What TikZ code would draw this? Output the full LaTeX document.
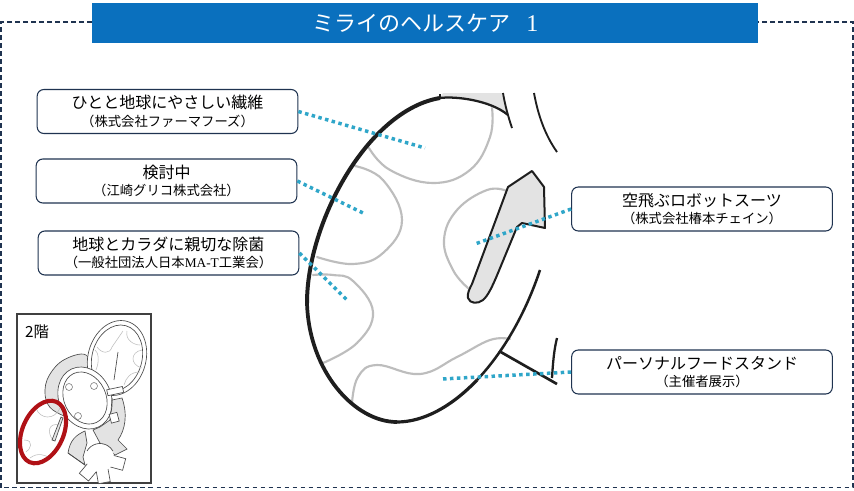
\documentclass[tikz,border=0pt]{standalone}
\usepackage{fontspec}
\setmainfont{Noto Sans CJK JP}
\newfontfamily\latinserif{Liberation Serif}
\definecolor{framenavy}{HTML}{1F3350}
\definecolor{hdrblue}{HTML}{0A70BE}
\definecolor{dotblue}{HTML}{2FA6C9}
\definecolor{wall}{HTML}{1E1E1E}
\definecolor{soft}{HTML}{BDBDBD}
\definecolor{fillgrey}{HTML}{E3E3E3}
\definecolor{ringred}{HTML}{B01116}
\tikzset{
  infobox/.style={draw=framenavy,line width=0.8pt,rounded corners=5pt,fill=white,minimum width=195.5pt,minimum height=33pt,inner sep=0pt,align=center,font=\fontsize{12}{14.5}\selectfont},
  leader/.style={draw=dotblue,line width=2.6pt,dash pattern=on 2.6pt off 2.6pt},
  softline/.style={draw=soft,line width=1.6pt,line cap=round},
  wallthin/.style={draw=wall,line width=1.4pt},
  mini/.style={draw=black!70,line width=0.5pt,fill=white},
  minisoft/.style={draw=soft,line width=0.4pt},
}
\newcommand{\twolines}[2]{\raisebox{-2.5pt}{#1}\\\raisebox{-1pt}{\fontsize{10}{11}\selectfont #2}}
\begin{document}
\begin{tikzpicture}[x=0.75pt,y=-0.75pt]
\useasboundingbox (0,0) rectangle (854,490);
\fill[white] (0,0) rectangle (854,490);
% dashed frame
\draw[framenavy,line width=0.8pt,dash pattern=on 3.6pt off 2.4pt] (92,22) -- (1,22) -- (1,487.5) -- (853,487.5) -- (853,22) -- (758,22);
% header
\node[fill=hdrblue,text=white,minimum width=499.5pt,minimum height=30pt,inner sep=0pt,anchor=north west,font=\fontsize{16.5}{20}\selectfont] (header) at (92,3) {ミライのヘルスケア\hspace{12pt}{\latinserif\fontsize{18}{20}\selectfont 1}};

% grey top fill
\fill[fillgrey] (443,93) -- (502,93) -- (508,115) .. controls (490,100) and (455,96) .. (440,98) -- cycle;
% soft blobs
\draw[softline] plot[smooth,tension=0.7] coordinates {(369,148) (390,170) (433,183) (470,170) (490,137) (492,108)};
\draw[softline] plot[smooth,tension=0.7] coordinates {(355,166) (383,180) (402,220) (383,253) (353,264) (317,257)};
\draw[softline] plot[smooth,tension=0.7] coordinates {(313,275) (333,275) (353,281) (373,312) (357,343) (323,363)};
\draw[softline] plot[smooth,tension=0.7] coordinates {(507,191) (487,190) (457,210) (444,240) (453,270) (468,288)};
\draw[softline] plot[smooth,tension=0.7] coordinates {(352,403) (358,377) (377,365) (420,374) (457,357) (490,340) (510,339)};
% outer wall
\draw[wall,line width=3pt] (440,98) .. controls (368,110) and (307,222) .. (307,303);
\draw[wall,line width=2.8pt] (307,303) .. controls (309,372) and (355,422) .. (397,422);
\draw[wall,line width=2.4pt] (397,422) .. controls (423.5,422) and (451.75,406.5) .. (477,380);
\draw[wall,line width=1.9pt] (477,380) .. controls (502.5,353) and (525,315) .. (540,270);
\draw[wallthin,line width=1.7pt] (440,98) .. controls (455,96) and (490,100) .. (508,115);
\draw[wall,line width=2.2pt] (440,94) -- (440,98);
% side walls
\draw[wallthin] (503,93) .. controls (505,105) and (508,116) .. (512,128);
\draw[wallthin] (534,93) .. controls (538,115) and (545,135) .. (557,152);
\draw[wall,line width=2pt] (499,351) -- (557,384);
\draw[wallthin,line width=1.7pt] (552,378) .. controls (553,362) and (554,350) .. (557,338);
% grey column
\draw[fill=fillgrey,draw=wall,line width=1.5pt,line join=round] (508,187) -- (532,171) -- (544,187) -- (545,228) -- (522,223) -- (517,227) -- (498,273) .. controls (493,285) and (488,296) .. (483,300) .. controls (478,304) and (470,304) .. (468,298) .. controls (467,293) and (470,288) .. (472,284) -- cycle;
% boxes
\node[infobox] (b1) at (167.5,111.5) {\twolines{ひとと地球にやさしい繊維}{（株式会社ファーマフーズ）}};
\node[infobox] (b2) at (166.5,181) {\twolines{検討中}{（江崎グリコ株式会社）}};
\node[infobox] (b3) at (168.5,253) {\twolines{地球とカラダに親切な除菌}{（一般社団法人日本{\latinserif MA-T}工業会）}};
\node[infobox] (b4) at (702,209) {\twolines{空飛ぶロボットスーツ}{（株式会社椿本チェイン）}};
\node[infobox] (b5) at (702,372) {\twolines{パーソナルフードスタンド}{（主催者展示）}};
% leaders
\coordinate (l1) at (425,148);
\coordinate (l2) at (363,213);
\coordinate (l3) at (347,300);
\coordinate (l4) at (475,244);
\coordinate (l5) at (442,379);
\draw[leader] (b1.east) -- (l1);
\draw[leader] (b2.east) -- (l2);
\draw[leader] (b3.east) -- (l3);
\draw[leader] (b4.west) -- (l4);
\draw[leader] (b5.west) -- (l5);

% inset
\draw[draw=black!75,line width=0.8pt,fill=white] (17,314) rectangle (151,483);
\node[font=\fontsize{11.5}{13}\selectfont,inner sep=0pt] (floor) at (37,332) {2階};
% inset grey regions
\draw[draw=black!70,line width=0.5pt,fill=fillgrey] plot[smooth cycle,tension=0.6] coordinates {(86,355) (62,361) (47,380) (46,400) (56,412) (75,415) (90,380)};
\draw[draw=black!70,line width=0.5pt,fill=fillgrey] (122,398) .. controls (128,415) and (125,430) .. (118,440) -- (127,449) -- (115,455) -- (100,443) -- (93,430) -- (100,427) -- (110,420) -- (112,400) -- cycle;
\draw[draw=black!70,line width=0.5pt,fill=fillgrey] (68,453) .. controls (70,440) and (76,435) .. (85,431) -- (87,443) -- (83,457) -- (85,465) -- cycle;
% top right hall
\draw[mini,rotate around={-15:(117,358)}] (117,358) ellipse (29 and 38);
\draw[mini,rotate around={-15:(117,358)}] (117,358) ellipse (25 and 33.5);
\draw[minisoft] (97,347) .. controls (102,354) and (110,354) .. (112,347) -- (123,331);
\draw[minisoft] (127,331) .. controls (125,340) and (134,345) .. (140,345);
\draw[minisoft] (142,350) .. controls (130,352) and (130,365) .. (142,368);
\draw[minisoft] (140,372) .. controls (130,372) and (126,378) .. (124,385);
\draw[minisoft] (96,370) .. controls (100,360) and (98,352) .. (95,350);
\draw[black!70,line width=0.5pt] (118,352) -- (114,380);
% centre ring
\draw[mini,rotate around={25:(85,398)}] (85,398) ellipse (26 and 32);
\draw[mini,rotate around={25:(85,398)}] (85,398) ellipse (21 and 27);
\draw[draw=black!55,line width=0.4pt,fill=white] (69,387) circle (3.5);
\draw[draw=black!55,line width=0.4pt,fill=white] (94,386) circle (3.5);
\draw[draw=black!55,line width=0.4pt,fill=white] (78,416) circle (3.5);
% connector stubs
\draw[mini,rotate around={12:(116,395)}] (108,388) rectangle (124,394);
\draw[mini,rotate around={15:(115,417)}] (110,413) rectangle (118,422);
\draw[black!70,line width=0.5pt] (112,398) -- (111,412);
% star hall
\foreach \a in {-15,-80,-130}{
  \draw[mini,rotate around={\a:(100,458)}] (112,452) rectangle (125,464);
}
\draw[draw=none,fill=white] (100,458) circle (14);
\draw[black!70,line width=0.5pt] (87,451) arc[start angle=-150,end angle=-30,radius=15];
\draw[black!70,line width=0.5pt] (68,453) -- (85,465);
% red hall
\draw[minisoft] (36,408) .. controls (40,420) and (55,420) .. (60,408);
\draw[minisoft] (60,425) .. controls (48,422) and (47,433) .. (53,440);
\draw[minisoft] (24,440) .. controls (35,440) and (30,450) .. (26,452);
\draw[minisoft] (30,458) .. controls (38,452) and (45,455) .. (50,458);
\draw[draw=black!70,line width=0.5pt,fill=fillgrey] (61,417) -- (52,440) -- (55,441) -- (63,418) -- cycle;
\draw[ringred,line width=3.1pt,rotate around={-24:(43,432)}] (43,432) ellipse (20.5 and 33);
\end{tikzpicture}
\end{document}
